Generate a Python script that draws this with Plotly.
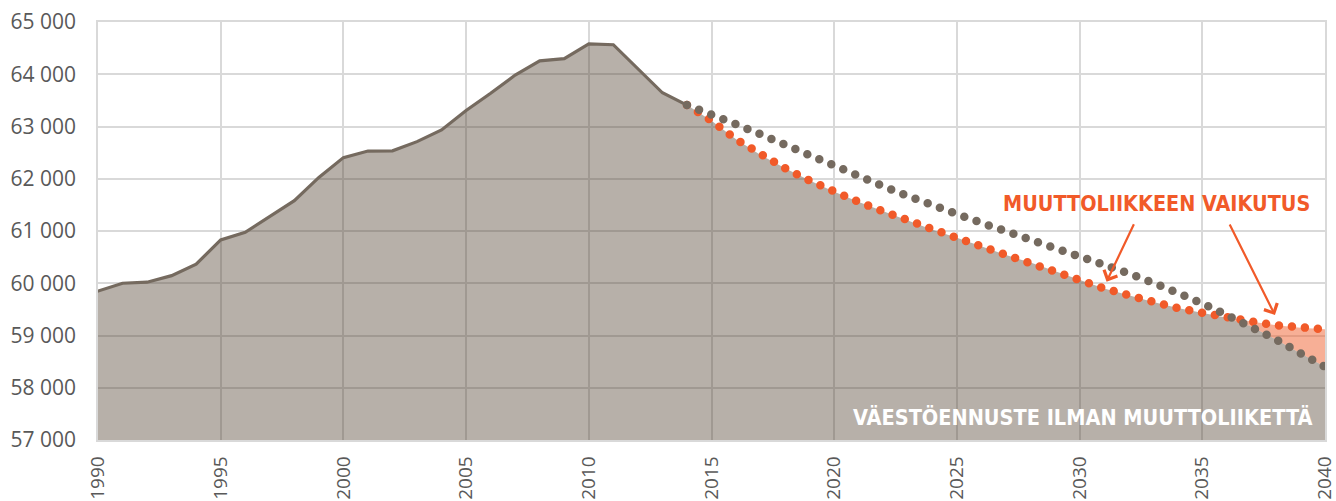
import plotly.graph_objects as go

# ---- data ----
hist_years = list(range(1990, 2015))
hist_values = [59850, 60000, 60020, 60145, 60365, 60830, 60975, 61275, 61580, 62025,
               62405, 62530, 62535, 62710, 62935, 63305, 63635, 63985, 64255, 64300,
               64580, 64565, 64115, 63645, 63410]

proj_years = list(range(2014, 2041))
no_migration = [63410, 63240, 63045, 62850, 62645, 62440, 62240, 62045, 61855, 61670,
                61485, 61320, 61155, 60995, 60840, 60680, 60520, 60355, 60190, 60010,
                59820, 59615, 59390, 59170, 58925, 58660, 58400]
with_migration = [63410, 63110, 62755, 62455, 62200, 61965, 61750, 61555, 61375, 61195,
                  61025, 60870, 60705, 60540, 60395, 60230, 60070, 59900, 59770, 59640,
                  59525, 59435, 59340, 59270, 59195, 59150, 59120]

x_ticks = list(range(1990, 2041, 5))
label_effect = "MUUTTOLIIKKEEN VAIKUTUS"
label_base = "VÄESTÖENNUSTE ILMAN MUUTTOLIIKETTÄ"

# ---- derived series ----
proj_min = [min(a, b) for a, b in zip(no_migration, with_migration)]
base_x = hist_years[:-1] + proj_years
base_y = hist_values[:-1] + proj_min

BROWN = "#756a5f"
ORANGE = "#f15a29"
AREA = "rgba(75,58,40,0.4)"
SALMON = "rgba(240,95,45,0.5)"
TXT = "#595959"
COND = "Liberation Sans Narrow, DejaVu Sans Condensed, Roboto"

fig = go.Figure()
fig.add_trace(go.Scatter(x=base_x, y=base_y, mode="lines", line=dict(width=0),
                         fill="tozeroy", fillcolor=AREA, hoverinfo="skip", showlegend=False))
fig.add_trace(go.Scatter(x=proj_years, y=proj_min, mode="lines", line=dict(width=0),
                         hoverinfo="skip", showlegend=False))
fig.add_trace(go.Scatter(x=proj_years, y=with_migration, mode="lines", line=dict(width=0),
                         fill="tonexty", fillcolor=SALMON, hoverinfo="skip", showlegend=False))
fig.add_trace(go.Scatter(x=proj_years, y=with_migration, mode="lines",
                         line=dict(color=ORANGE, width=8.5, dash="0px,13px"), showlegend=False))
fig.add_trace(go.Scatter(x=proj_years, y=no_migration, mode="lines",
                         line=dict(color=BROWN, width=8.5, dash="0px,13px"), showlegend=False))
fig.add_trace(go.Scatter(x=hist_years, y=hist_values, mode="lines",
                         line=dict(color=BROWN, width=3.2), showlegend=False))

fig.add_annotation(x=2031.1, y=60030, xref="x", yref="y", ax=28, ay=-59,
                   axref="pixel", ayref="pixel", text="", showarrow=True,
                   arrowhead=4, arrowsize=1.3, arrowwidth=2.2, arrowcolor=ORANGE)
fig.add_annotation(x=2037.96, y=59392, xref="x", yref="y", ax=-46, ay=-92,
                   axref="pixel", ayref="pixel", text="", showarrow=True,
                   arrowhead=4, arrowsize=1.3, arrowwidth=2.2, arrowcolor=ORANGE)
fig.add_annotation(x=1156, y=204, xref="paper", yref="paper", text="<b>" + label_effect + "</b>",
                   showarrow=False, xanchor="center", yanchor="middle",
                   font=dict(family=COND, size=21.4, color=ORANGE))
fig.add_annotation(x=1082, y=417, xref="paper", yref="paper", text="<b>" + label_base + "</b>",
                   showarrow=False, xanchor="center", yanchor="middle",
                   font=dict(family=COND, size=21.5, color="white"))

# convert pixel positions of text labels to paper coordinates
L, R, T, B = 98, 11, 22, 61
W, H = 1336, 501
pw, ph = W - L - R, H - T - B
for ann in fig.layout.annotations[2:]:
    ann.x = (ann.x - L) / pw
    ann.y = 1 - (ann.y - T) / ph

fig.update_layout(
    width=W, height=H,
    margin=dict(l=L, r=R, t=T, b=B, autoexpand=False),
    paper_bgcolor="white", plot_bgcolor="white",
    separators=", ",
    font=dict(family="Open Sans, Noto Sans, sans-serif", size=21, color=TXT),
    xaxis=dict(range=[1990, 2040], tickvals=x_ticks, tickangle=-90, automargin=False,
               showgrid=True, gridcolor="#d9d9d9", gridwidth=1.5,
               showline=True, mirror=True, linecolor="#d9d9d9", linewidth=1.5,
               zeroline=False, ticks="", ticklabelstandoff=7, ticklabeloverflow="allow",
               tickfont=dict(size=19, color=TXT)),
    yaxis=dict(range=[57000, 65000], dtick=1000, tickformat=",d", automargin=False,
               showgrid=True, gridcolor="#d9d9d9", gridwidth=1.5,
               showline=True, mirror=True, linecolor="#d9d9d9", linewidth=1.5,
               zeroline=False, ticks="", ticklabelstandoff=16, ticklabeloverflow="allow",
               tickfont=dict(size=21, color=TXT)),
)

post = """
document.body.style.margin = '0';
document.body.style.padding = '0';
var gd = document.getElementById('{plot_id}');
function rc(){ gd.querySelectorAll('.scatterlayer path.js-line').forEach(function(p){ p.style.strokeLinecap='round'; }); }
rc(); if (gd.on) { gd.on('plotly_afterplot', rc); }
setTimeout(rc, 50);
"""
fig.write_html("out.html", post_script=post, config={"displayModeBar": False})
